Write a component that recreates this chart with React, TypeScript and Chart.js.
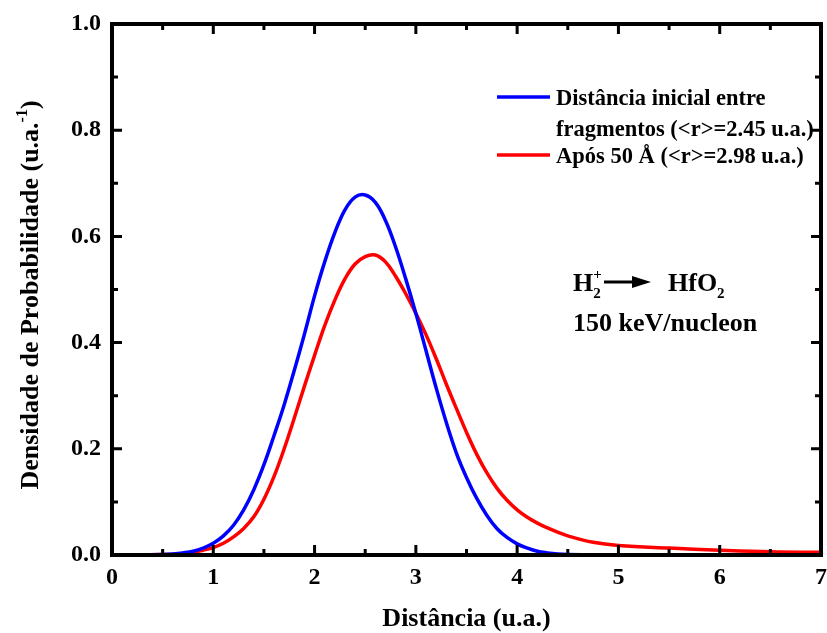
import React, { useEffect, useRef } from "react";
import { Chart, registerables } from "chart.js";

Chart.register(...registerables);

const distances = [
  0, 0.25, 0.5, 0.6, 0.7, 0.8, 0.9, 1.0, 1.1, 1.2, 1.3, 1.4, 1.5, 1.6, 1.7, 1.8, 1.9, 2.0, 2.1, 2.2, 2.3, 2.4, 2.5,
  2.6, 2.7, 2.8, 2.9, 3.0, 3.1, 3.2, 3.3, 3.4, 3.5, 3.6, 3.7, 3.8, 3.9, 4.0, 4.1, 4.2, 4.3, 4.4, 4.5, 4.75, 5, 5.5,
  6, 6.5, 7,
];
const initialDensity = [
  0, 0, 0.001, 0.002, 0.004, 0.007, 0.013, 0.022, 0.036, 0.056, 0.085, 0.123, 0.17, 0.225, 0.283, 0.348, 0.416,
  0.488, 0.552, 0.607, 0.65, 0.674, 0.678, 0.664, 0.63, 0.58, 0.52, 0.455, 0.385, 0.315, 0.25, 0.192, 0.146, 0.107,
  0.075, 0.05, 0.033, 0.021, 0.013, 0.007, 0.004, 0.002, 0.001, 0, 0, 0, 0, 0, 0,
];
const after50Density = [
  0, 0, 0.001, 0.001, 0.003, 0.005, 0.009, 0.014, 0.022, 0.034, 0.05, 0.072, 0.105, 0.148, 0.2, 0.258, 0.318,
  0.376, 0.432, 0.48, 0.52, 0.548, 0.562, 0.565, 0.552, 0.525, 0.492, 0.455, 0.415, 0.37, 0.322, 0.276, 0.231, 0.19,
  0.155, 0.126, 0.103, 0.085, 0.071, 0.06, 0.051, 0.043, 0.036, 0.024, 0.018, 0.013, 0.009, 0.006, 0.005,
];

const xMajorTicks = [0, 1, 2, 3, 4, 5, 6, 7];
const xMinorTicks = [0.5, 1.5, 2.5, 3.5, 4.5, 5.5, 6.5];
const yMajorTicks = [0, 0.2, 0.4, 0.6, 0.8, 1.0];
const yMinorTicks = [0.1, 0.3, 0.5, 0.7, 0.9];

const legendInitialLines = ["Distância inicial entre", "fragmentos (<r>=2.45 u.a.)"];
const legendAfter = "Após 50 Å (<r>=2.98 u.a.)";
const xTitle = "Distância (u.a.)";
const yTitleMain = "Densidade de Probabilidade (u.a.";
const yTitleSup = "-1";

const FONT = "'Liberation Serif', 'Times New Roman', serif";

const framePlugin = {
  id: "framePlugin",
  afterDraw(chart: any) {
    const { ctx, chartArea } = chart;
    const xs = chart.scales.x;
    const ys = chart.scales.y;
    const { left, right, top, bottom } = chartArea;
    ctx.save();
    ctx.strokeStyle = "#000";
    ctx.lineCap = "butt";
    ctx.lineWidth = 3;
    const drawX = (v: number, len: number) => {
      const px = xs.getPixelForValue(v);
      ctx.beginPath();
      ctx.moveTo(px, bottom);
      ctx.lineTo(px, bottom - len);
      ctx.moveTo(px, top);
      ctx.lineTo(px, top + len);
      ctx.stroke();
    };
    const drawY = (v: number, len: number) => {
      const py = ys.getPixelForValue(v);
      ctx.beginPath();
      ctx.moveTo(left, py);
      ctx.lineTo(left + len, py);
      ctx.moveTo(right, py);
      ctx.lineTo(right - len, py);
      ctx.stroke();
    };
    xMajorTicks.forEach((v) => drawX(v, 10));
    xMinorTicks.forEach((v) => drawX(v, 6));
    yMajorTicks.forEach((v) => drawY(v, 10));
    yMinorTicks.forEach((v) => drawY(v, 6));
    ctx.lineWidth = 4;
    ctx.strokeRect(left, top, right - left, bottom - top);

    ctx.fillStyle = "#000";
    ctx.font = `bold 26px ${FONT}`;
    ctx.textAlign = "center";
    ctx.textBaseline = "alphabetic";
    ctx.fillText(xTitle, (left + right) / 2, 626);

    ctx.save();
    ctx.translate(38, 295);
    ctx.rotate(-Math.PI / 2);
    ctx.font = `bold 26px ${FONT}`;
    const mainW = ctx.measureText(yTitleMain).width;
    ctx.font = `bold 16px ${FONT}`;
    const supW = ctx.measureText(yTitleSup).width;
    ctx.font = `bold 26px ${FONT}`;
    const closeW = ctx.measureText(")").width;
    const total = mainW + supW + closeW;
    let cx = -total / 2;
    ctx.textAlign = "left";
    ctx.fillText(yTitleMain, cx, 0);
    cx += mainW;
    ctx.font = `bold 16px ${FONT}`;
    ctx.fillText(yTitleSup, cx, -11);
    cx += supW;
    ctx.font = `bold 26px ${FONT}`;
    ctx.fillText(")", cx, 0);
    ctx.restore();

    ctx.font = `bold 22.5px ${FONT}`;
    ctx.textAlign = "left";
    ctx.textBaseline = "middle";
    ctx.lineWidth = 3.5;
    ctx.strokeStyle = "#0000ff";
    ctx.beginPath();
    ctx.moveTo(497, 97);
    ctx.lineTo(550, 97);
    ctx.stroke();
    ctx.fillText(legendInitialLines[0], 556, 99);
    ctx.fillText(legendInitialLines[1], 556, 130);
    ctx.strokeStyle = "#ff0000";
    ctx.beginPath();
    ctx.moveTo(497, 155);
    ctx.lineTo(550, 155);
    ctx.stroke();
    ctx.fillText(legendAfter, 556, 157);

    ctx.textBaseline = "alphabetic";
    ctx.font = `bold 26px ${FONT}`;
    let ax = 573;
    const by = 291;
    ctx.fillText("H", ax, by);
    ax += ctx.measureText("H").width;
    ctx.font = `bold 15px ${FONT}`;
    ctx.fillText("2", ax, by + 7);
    ctx.fillText("+", ax, by - 12);
    ctx.strokeStyle = "#000";
    ctx.lineWidth = 3;
    ctx.beginPath();
    ctx.moveTo(604, 282);
    ctx.lineTo(636, 282);
    ctx.stroke();
    ctx.beginPath();
    ctx.moveTo(651, 282);
    ctx.lineTo(632, 276);
    ctx.lineTo(632, 288);
    ctx.closePath();
    ctx.fill();
    ctx.font = `bold 26px ${FONT}`;
    ctx.fillText("HfO", 668, by);
    const hw = ctx.measureText("HfO").width;
    ctx.font = `bold 15px ${FONT}`;
    ctx.fillText("2", 668 + hw, by + 7);
    ctx.font = `bold 26px ${FONT}`;
    ctx.fillText("150 keV/nucleon", 573, 331);
    ctx.restore();
  },
};

export default function App() {
  const ref = useRef<HTMLCanvasElement | null>(null);
  useEffect(() => {
    if (!ref.current) return;
    const toPoints = (ys: number[]) => distances.map((x, i) => ({ x, y: ys[i] }));
    const chart = new Chart(ref.current, {
      type: "line",
      data: {
        datasets: [
          {
            label: "Distância inicial entre fragmentos (<r>=2.45 u.a.)",
            data: toPoints(initialDensity),
            borderColor: "#0000ff",
            borderWidth: 3.5,
            pointRadius: 0,
            tension: 0.4,
            fill: false,
          },
          {
            label: "Após 50 Å (<r>=2.98 u.a.)",
            data: toPoints(after50Density),
            borderColor: "#ff0000",
            borderWidth: 3.5,
            pointRadius: 0,
            tension: 0.4,
            fill: false,
          },
        ],
      },
      options: {
        responsive: false,
        animation: false,
        layout: { padding: { left: 0, right: 6, top: 24, bottom: 0 } },
        plugins: { legend: { display: false }, tooltip: { enabled: false } },
        scales: {
          x: {
            type: "linear",
            min: 0,
            max: 7,
            grid: { display: false, drawTicks: false },
            border: { display: false },
            ticks: {
              stepSize: 1,
              color: "#000",
              padding: 8,
              font: { family: FONT, size: 24, weight: "bold" },
              maxRotation: 0,
              callback: (v: any) => String(v),
            },
            afterFit: (s: any) => {
              s.height = 78;
              s.paddingLeft = 0;
              s.paddingRight = 0;
            },
          },
          y: {
            min: 0,
            max: 1,
            grid: { display: false, drawTicks: false },
            border: { display: false },
            ticks: {
              stepSize: 0.2,
              color: "#000",
              padding: 11,
              font: { family: FONT, size: 24, weight: "bold" },
              callback: (v: any) => Number(v).toFixed(1),
            },
            afterFit: (s: any) => {
              s.width = 112;
              s.paddingTop = 0;
              s.paddingBottom = 0;
            },
          },
        },
      },
      plugins: [framePlugin],
    } as any);
    return () => chart.destroy();
  }, []);
  return (
    <div style={{ position: "absolute", left: 0, top: 0, width: 827, height: 633, background: "#fff" }}>
      <canvas ref={ref} width={827} height={633} style={{ display: "block" }} />
    </div>
  );
}
